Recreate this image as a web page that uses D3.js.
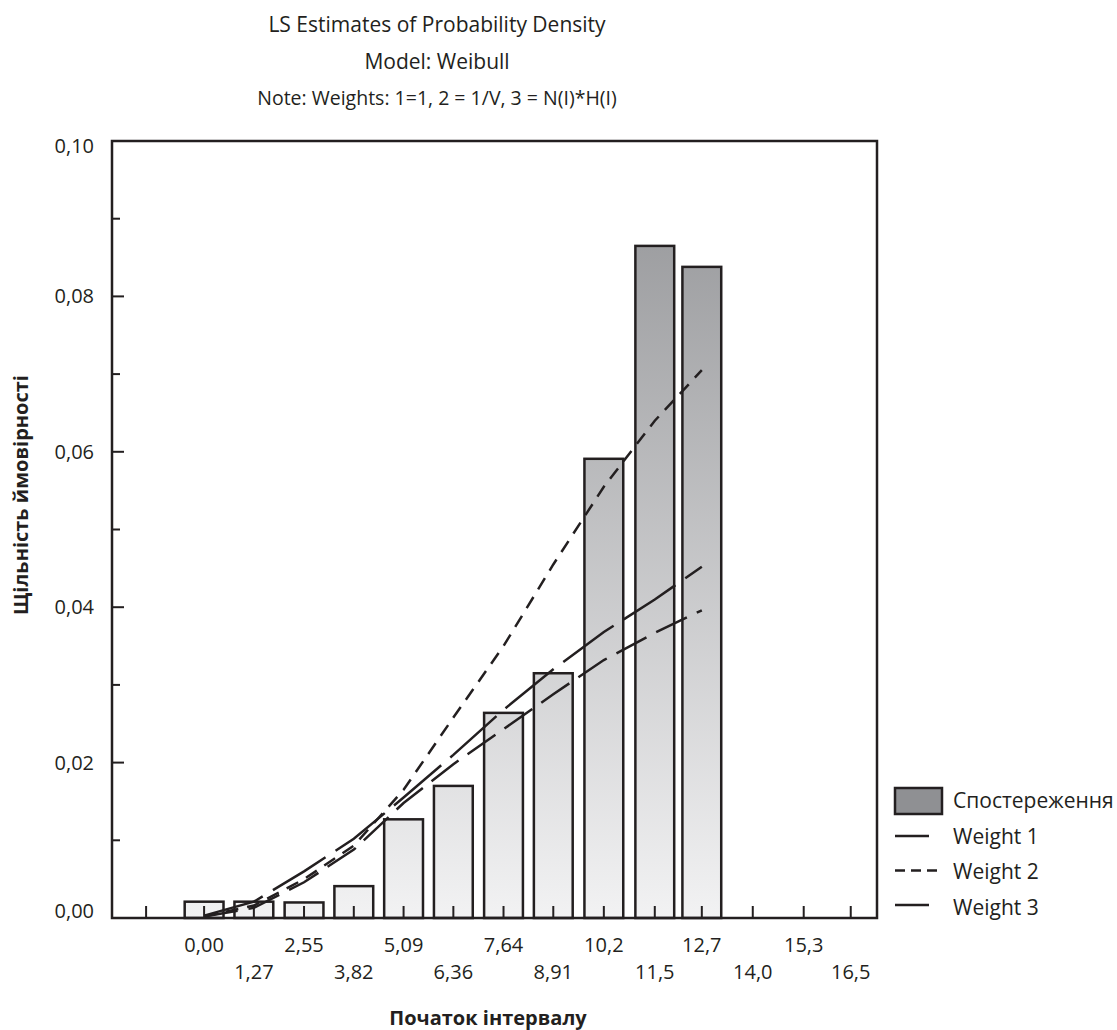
<!DOCTYPE html>
<html>
<head>
<meta charset="utf-8">
<script src="https://cdn.jsdelivr.net/npm/d3@7"></script>
<style>
  body { margin: 0; background: #fff; }
  svg text { font-family: "Open Sans", "Noto Sans", sans-serif; fill: #231f20; }
</style>
</head>
<body>
<svg id="chart" width="1117" height="1030"></svg>
<script>
// données
const debutsIntervalle = [0, 1.27, 2.55, 3.82, 5.09, 6.36, 7.64, 8.91, 10.2, 11.5, 12.7, 14.0, 15.3, 16.5];
const etiquettesX = ["0,00", "1,27", "2,55", "3,82", "5,09", "6,36", "7,64", "8,91", "10,2", "11,5", "12,7", "14,0", "15,3", "16,5"];
const observations = [0.0021, 0.0021, 0.0020, 0.0041, 0.0127, 0.0170, 0.0264, 0.0315, 0.0591, 0.0865, 0.0838, 0, 0, 0];
const poids1 = [0.0003, 0.0021, 0.0060, 0.0102, 0.0155, 0.0210, 0.0268, 0.0320, 0.0368, 0.0410, 0.0452];
const poids2 = [0.0002, 0.0016, 0.0050, 0.0093, 0.0165, 0.0258, 0.0350, 0.0455, 0.0555, 0.0640, 0.0705];
const poids3 = [0.0002, 0.0013, 0.0046, 0.0088, 0.0148, 0.0198, 0.0243, 0.0288, 0.0332, 0.0367, 0.0396];
const ticksY = [0, 0.01, 0.02, 0.03, 0.04, 0.05, 0.06, 0.07, 0.08, 0.09, 0.10];
const etiquettesY = ["0,00", "", "0,02", "", "0,04", "", "0,06", "", "0,08", "", "0,10"];
const titres = ["LS Estimates of Probability Density", "Model: Weibull", "Note: Weights: 1=1, 2 = 1/V, 3 = N(I)*H(I)"];
const legende = ["Спостереження", "Weight 1", "Weight 2", "Weight 3"];

const gauche = 112, droite = 877, haut = 141, bas = 918;
const encre = "#231f20";

const svg = d3.select("#chart");

const x = d3.scaleLinear().domain([-2.35, 17.17]).range([gauche, droite]);
const y = d3.scaleLinear().domain([0, 0.10]).range([bas, haut]);
const largeurBarre = (x(1.27) - x(0)) * 0.78;

// dégradé des barres
const grad = svg.append("defs").append("linearGradient")
    .attr("id", "degrade")
    .attr("gradientUnits", "userSpaceOnUse")
    .attr("x1", 0).attr("x2", 0)
    .attr("y1", haut).attr("y2", bas);
grad.append("stop").attr("offset", "0%").attr("stop-color", "#919295");
grad.append("stop").attr("offset", "100%").attr("stop-color", "#f2f2f3");

// titres
svg.selectAll(".titre")
    .data(titres)
    .join("text")
    .attr("class", "titre")
    .attr("x", 437)
    .attr("y", (d, i) => 32 + i * 36.5)
    .attr("text-anchor", "middle")
    .style("font-size", (d, i) => i === 2 ? "19.5px" : "21px")
    .text(d => d);

// barres
const barres = debutsIntervalle.map((d, i) => ({ debut: d, valeur: observations[i] })).filter(d => d.valeur > 0);
svg.append("g")
    .selectAll("rect")
    .data(barres)
    .join("rect")
    .attr("x", d => x(d.debut) - largeurBarre / 2)
    .attr("y", d => y(d.valeur))
    .attr("width", largeurBarre)
    .attr("height", d => y(0) - y(d.valeur))
    .attr("fill", "url(#degrade)")
    .attr("stroke", encre)
    .attr("stroke-width", 2.5);

// courbes
const courbes = [
    { valeurs: poids1, tirets: "62 12" },
    { valeurs: poids2, tirets: "13 9" },
    { valeurs: poids3, tirets: "34 11" }
];
const ligne = d3.line()
    .x((d, i) => x(debutsIntervalle[i]))
    .y(d => y(d));
svg.append("g")
    .selectAll("path")
    .data(courbes)
    .join("path")
    .attr("d", d => ligne(d.valeurs))
    .attr("fill", "none")
    .attr("stroke", encre)
    .attr("stroke-width", 2.5)
    .attr("stroke-dasharray", d => d.tirets);

// axe Y (graduations vers l'intérieur)
const axeY = svg.append("g").attr("transform", `translate(${gauche},0)`);
axeY.selectAll("line")
    .data(ticksY)
    .join("line")
    .attr("x1", 0)
    .attr("x2", (d, i) => i % 2 === 0 ? 12 : 8)
    .attr("y1", d => y(d))
    .attr("y2", d => y(d))
    .attr("stroke", encre)
    .attr("stroke-width", 2);
axeY.selectAll("text")
    .data(ticksY)
    .join("text")
    .attr("x", -18)
    .attr("y", (d, i) => y(d) + (i === 10 ? 12 : i === 0 ? 0 : 7))
    .attr("text-anchor", "end")
    .style("font-size", "20px")
    .text((d, i) => etiquettesY[i]);

// axe X
const ticksX = [-1.48].concat(debutsIntervalle);
const axeX = svg.append("g");
axeX.selectAll("line")
    .data(ticksX)
    .join("line")
    .attr("x1", d => x(d))
    .attr("x2", d => x(d))
    .attr("y1", bas)
    .attr("y2", bas - 12)
    .attr("stroke", encre)
    .attr("stroke-width", 2);
axeX.selectAll("text")
    .data(debutsIntervalle)
    .join("text")
    .attr("x", d => x(d))
    .attr("y", (d, i) => i % 2 === 0 ? 952 : 979)
    .attr("text-anchor", "middle")
    .style("font-size", "20px")
    .text((d, i) => etiquettesX[i]);

// cadre
svg.append("rect")
    .attr("x", gauche).attr("y", haut)
    .attr("width", droite - gauche).attr("height", bas - haut)
    .attr("fill", "none")
    .attr("stroke", encre)
    .attr("stroke-width", 2.5);

// titres des axes
svg.append("text")
    .attr("transform", "translate(28,495) rotate(-90)")
    .attr("text-anchor", "middle")
    .style("font-size", "20px")
    .style("font-weight", "bold")
    .text("Щільність ймовірності");
svg.append("text")
    .attr("x", 488)
    .attr("y", 1025)
    .attr("text-anchor", "middle")
    .style("font-size", "20px")
    .style("font-weight", "bold")
    .text("Початок інтервалу");

// légende
const leg = svg.append("g").attr("transform", "translate(895,0)");
leg.append("rect")
    .attr("x", 0).attr("y", 788)
    .attr("width", 47).attr("height", 26)
    .attr("fill", "#8f9093")
    .attr("stroke", encre)
    .attr("stroke-width", 2.5);
const tiretsLegende = [null, "10 6", null];
leg.selectAll(".trait")
    .data(tiretsLegende)
    .join("line")
    .attr("class", "trait")
    .attr("x1", 0)
    .attr("x2", (d, i) => i === 1 ? 46 : 34)
    .attr("y1", (d, i) => 836 + i * 34.5)
    .attr("y2", (d, i) => 836 + i * 34.5)
    .attr("stroke", encre)
    .attr("stroke-width", 2.5)
    .attr("stroke-dasharray", d => d);
leg.selectAll(".etiquette")
    .data(legende)
    .join("text")
    .attr("class", "etiquette")
    .attr("x", 58)
    .attr("y", (d, i) => 808 + i * 35.7)
    .style("font-size", "21px")
    .text(d => d);
</script>
</body>
</html>
